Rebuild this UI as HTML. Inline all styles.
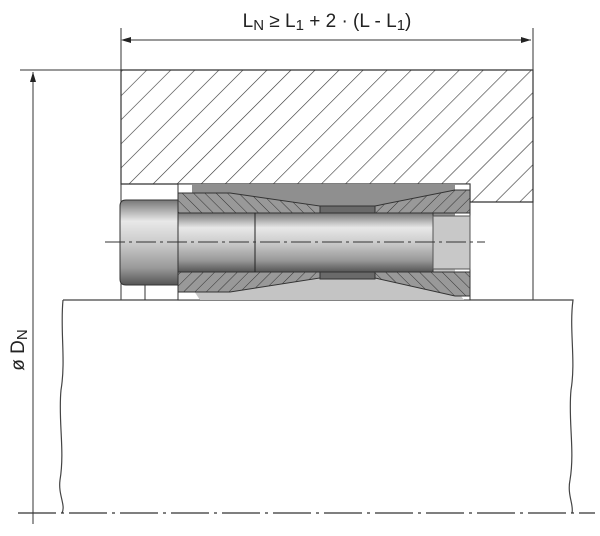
<!DOCTYPE html>
<html><head><meta charset="utf-8"><style>html,body{margin:0;padding:0;background:#fff}svg{display:block}</style></head>
<body>
<svg width="600" height="536" viewBox="0 0 600 536" xmlns="http://www.w3.org/2000/svg">
<defs>
<pattern id="h1" width="17" height="17" patternUnits="userSpaceOnUse" patternTransform="rotate(45)">
<rect width="17" height="17" fill="#fff"/><line x1="0" y1="0" x2="0" y2="17" stroke="#333" stroke-width="1.2"/></pattern>
<pattern id="h2" width="8" height="8" patternUnits="userSpaceOnUse" patternTransform="rotate(-45)">
<rect width="8" height="8" fill="#999"/><line x1="0" y1="0" x2="0" y2="8" stroke="#333" stroke-width="1"/></pattern>
<pattern id="h3" width="8" height="8" patternUnits="userSpaceOnUse" patternTransform="rotate(45)">
<rect width="8" height="8" fill="#999"/><line x1="0" y1="0" x2="0" y2="8" stroke="#333" stroke-width="1"/></pattern>
<linearGradient id="cyl" x1="0" y1="0" x2="0" y2="1">
<stop offset="0" stop-color="#777"/><stop offset="0.25" stop-color="#e8e8e8"/><stop offset="0.5" stop-color="#ccc"/><stop offset="0.8" stop-color="#999"/><stop offset="1" stop-color="#555"/></linearGradient>
<marker id="ar" markerWidth="10" markerHeight="6" refX="10" refY="3" orient="auto"><path d="M0,0 L10,3 L0,6z" fill="#222"/></marker>
</defs>
<line x1="121" y1="28" x2="121" y2="70" stroke="#333"/>
<line x1="533" y1="28" x2="533" y2="70" stroke="#333"/>
<line x1="123" y1="40" x2="531" y2="40" stroke="#333" marker-end="url(#ar)"/>
<path d="M131,37 L121,40 L131,43z" fill="#222"/>
<text x="327" y="27" font-family="Liberation Sans, sans-serif" font-size="19" text-anchor="middle" fill="#222">L<tspan font-size="15" dy="3">N</tspan><tspan dy="-3"> ≥ L</tspan><tspan font-size="15" dy="3">1</tspan><tspan dy="-3"> + 2 · (L - L</tspan><tspan font-size="15" dy="3">1</tspan><tspan dy="-3">)</tspan></text>
<line x1="20" y1="70" x2="121" y2="70" stroke="#333"/>
<path d="M121,70 H533 V202 H470 V184 H121 Z" fill="url(#h1)" stroke="#333" stroke-width="1.2"/>
<line x1="121" y1="184" x2="121" y2="300" stroke="#333"/>
<line x1="533" y1="202" x2="533" y2="300" stroke="#333"/>
<line x1="33" y1="524" x2="33" y2="72" stroke="#333" marker-end="url(#ar)"/>
<text transform="translate(24,350) rotate(-90)" font-family="Liberation Sans, sans-serif" font-size="19" text-anchor="middle" fill="#222">ø D<tspan font-size="15" dy="3">N</tspan></text>
<path d="M63,300 H573 C569,330 576,360 571,390 C568,420 575,450 570,480 C567,495 574,505 572,513" fill="#fff" stroke="#444" stroke-width="1.2"/>
<path d="M63,300 C60,330 66,360 61,390 C58,420 65,450 60,480 C58,495 66,505 62,513" fill="none" stroke="#444" stroke-width="1.2"/>
<line x1="18" y1="513" x2="595" y2="513" stroke="#333" stroke-width="1.2" stroke-dasharray="38,5,3,5"/>
<rect x="178" y="184" width="292" height="116" fill="#fff" stroke="#333"/>
<path d="M192,184 H455 V242 H192 Z" fill="#8f8f8f"/>
<path d="M192,242 H455 V288 L464,300 H200 L192,288 Z" fill="#c4c4c4"/>
<line x1="145" y1="283" x2="145" y2="300" stroke="#333"/>
<path d="M178,193 L230,193 L320,206 L320,213 L178,213 Z" fill="url(#h2)" stroke="#333"/>
<path d="M375,206 L455,190 L470,190 L470,213 L375,213 Z" fill="url(#h3)" stroke="#333"/>
<rect x="320" y="206" width="55" height="7" fill="#6a6a6a" stroke="#333"/>
<path d="M178,272 L320,272 L320,278 L230,292 L178,292 Z" fill="url(#h3)" stroke="#333"/>
<path d="M375,272 L470,272 L470,296 L455,296 L375,278 Z" fill="url(#h2)" stroke="#333"/>
<rect x="320" y="272" width="55" height="7" fill="#6a6a6a" stroke="#333"/>
<rect x="178" y="213" width="255" height="59" fill="url(#cyl)" stroke="#333"/>
<line x1="255" y1="213" x2="255" y2="272" stroke="#222"/>
<rect x="433" y="216" width="37" height="53" fill="#c8c8c8" stroke="#555"/>
<path d="M120,206 Q120,200 126,200 H178 V285 H126 Q120,285 120,279 Z" fill="url(#cyl)" stroke="#333"/>
<line x1="105" y1="242" x2="485" y2="242" stroke="#333" stroke-dasharray="20,4,3,4"/>
</svg>
</body></html>
